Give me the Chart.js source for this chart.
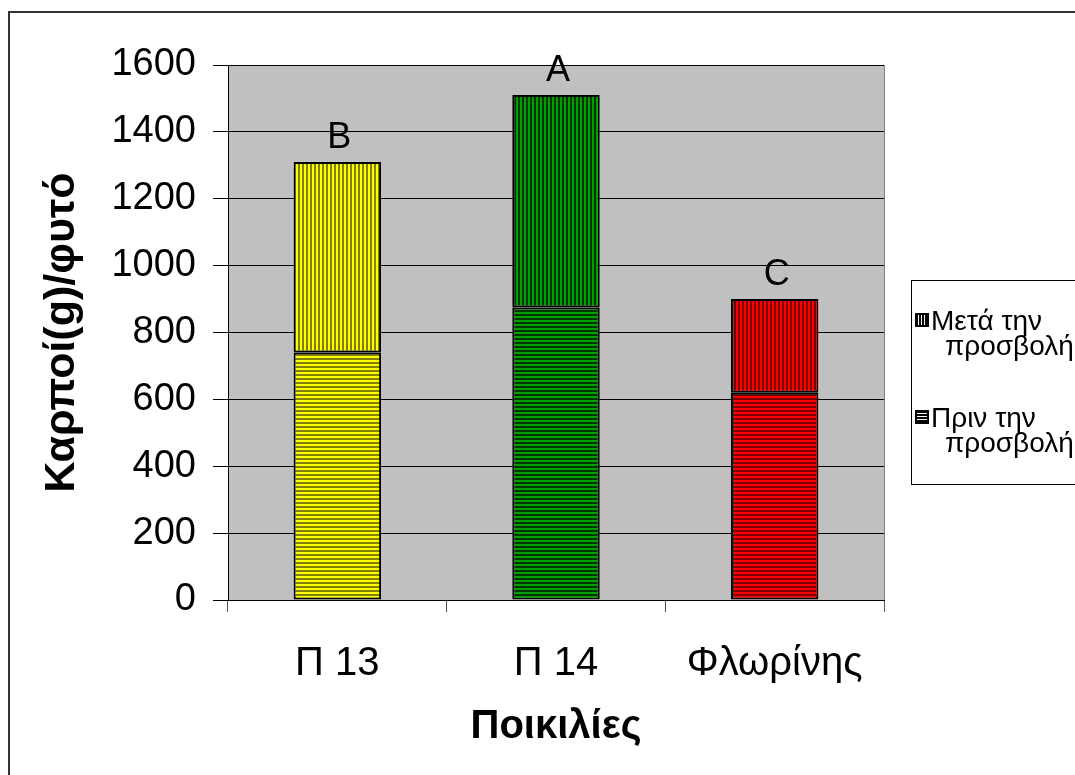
<!DOCTYPE html>
<html lang="el">
<head>
    <meta charset="UTF-8">
    <title>Καρποί ανά φυτό</title>
    <style>
        body { margin: 0; background: #fff; }
        canvas { display: block; }
    </style>
</head>
<body>
    <canvas id="chart" width="1075" height="775"></canvas>

    <script src="https://cdn.jsdelivr.net/npm/chart.js"></script>
    <script>
        // data
        const varieties = ['Π 13', 'Π 14', 'Φλωρίνης'];
        const beforeValues = [740, 875, 620];   // Πριν την προσβολή
        const afterValues = [570, 635, 280];    // Μετά την προσβολή
        const letters = ['B', 'A', 'C'];
        const legendLines = [['Μετά την', 'προσβολή'], ['Πριν την', 'προσβολή']];

        const barColors = [
            { light: '#ffff00', dark: '#808000' },
            { light: '#00a000', dark: '#003300' },
            { light: '#ff0000', dark: '#7a0000' }
        ];

        const FONT = 'Arial, "Liberation Sans", sans-serif';

        // striped fill, vertical or horizontal
        function stripes(c, vertical) {
            const p = document.createElement('canvas');
            p.width = 4; p.height = 4;
            const g = p.getContext('2d');
            g.fillStyle = c.dark;
            g.fillRect(0, 0, 4, 4);
            g.fillStyle = c.light;
            if (vertical) g.fillRect(0, 0, 2, 4);
            else g.fillRect(0, 0, 4, 2);
            return g.createPattern(p, 'repeat');
        }

        const ctx = document.getElementById('chart').getContext('2d');

        const plotBg = {
            id: 'plotBg',
            beforeDraw(chart) {
                const c = chart.ctx, a = chart.chartArea;
                c.save();
                // outer frame (left and top edges visible)
                c.strokeStyle = '#333';
                c.lineWidth = 2;
                c.beginPath();
                c.moveTo(9, 775); c.lineTo(9, 12); c.lineTo(1075, 12);
                c.stroke();
                c.fillStyle = '#c0c0c0';
                c.fillRect(a.left, a.top, a.right - a.left, a.bottom - a.top);
                c.strokeStyle = '#808080';
                c.lineWidth = 1;
                c.strokeRect(a.left + 0.5, a.top + 0.5, a.right - a.left, a.bottom - a.top);
                c.restore();
            }
        };

        const topLetters = {
            id: 'topLetters',
            afterDatasetsDraw(chart) {
                const c = chart.ctx;
                const meta = chart.getDatasetMeta(1);
                c.save();
                c.font = '36px ' + FONT;
                c.fillStyle = '#000';
                c.textAlign = 'center';
                c.textBaseline = 'alphabetic';
                meta.data.forEach((bar, i) => {
                    c.fillText(letters[i], bar.x + 2, bar.y - 14);
                });
                c.restore();
            }
        };

        const sideLegend = {
            id: 'sideLegend',
            afterDraw(chart) {
                const c = chart.ctx;
                c.save();
                c.strokeStyle = '#000';
                c.lineWidth = 1;
                c.strokeRect(911.5, 280.5, 200, 204);
                c.font = '28px ' + FONT;
                c.textBaseline = 'alphabetic';
                const ys = [330, 427];
                legendLines.forEach((lines, i) => {
                    const y = ys[i];
                    const x0 = 915, y0 = y - 17;
                    // black swatch with thin white stripes
                    c.fillStyle = '#000';
                    c.fillRect(x0, y0, 14, 14);
                    c.fillStyle = '#fff';
                    for (let k = 3; k <= 10; k += 3) {
                        if (i === 0) c.fillRect(x0 + k, y0 + 2, 1, 10);
                        else c.fillRect(x0 + 2, y0 + k, 10, 1);
                    }
                    c.fillStyle = '#000';
                    c.fillText(lines[0], 931, y);
                    c.fillText(lines[1], 945, y + 25);
                });
                c.restore();
            }
        };

        new Chart(ctx, {
            type: 'bar',
            data: {
                labels: varieties,
                datasets: [
                    {
                        label: 'Πριν την προσβολή',
                        data: beforeValues,
                        backgroundColor: barColors.map(c => stripes(c, false)),
                        borderColor: '#000',
                        borderWidth: 2,
                        borderSkipped: false,
                        barPercentage: 0.4,
                        categoryPercentage: 1
                    },
                    {
                        label: 'Μετά την προσβολή',
                        data: afterValues,
                        backgroundColor: barColors.map(c => stripes(c, true)),
                        borderColor: '#000',
                        borderWidth: 2,
                        borderSkipped: false,
                        barPercentage: 0.4,
                        categoryPercentage: 1
                    }
                ]
            },
            options: {
                responsive: false,
                animation: false,
                layout: { padding: { top: 65, right: 191, left: 0, bottom: 0 } },
                plugins: {
                    legend: { display: false },
                    tooltip: { enabled: false }
                },
                scales: {
                    x: {
                        stacked: true,
                        afterFit(scale) { scale.height = 175; },
                        grid: {
                            offset: true,
                            drawOnChartArea: false,
                            tickLength: 12,
                            color: '#555'
                        },
                        border: { color: '#000', width: 1 },
                        ticks: {
                            color: '#000',
                            padding: 28,
                            font: { family: FONT, size: 40 }
                        },
                        title: {
                            display: true,
                            text: 'Ποικιλίες',
                            color: '#000',
                            padding: { top: 0, bottom: 24 },
                            font: { family: FONT, size: 40, weight: 'bold' }
                        }
                    },
                    y: {
                        stacked: true,
                        min: 0,
                        max: 1600,
                        afterFit(scale) { scale.width = 228; },
                        grid: {
                            color: '#000',
                            tickLength: 15
                        },
                        border: { color: '#000', width: 1 },
                        ticks: {
                            stepSize: 200,
                            color: '#000',
                            padding: 17,
                            callback: v => String(v),
                            font: { family: FONT, size: 38 }
                        },
                        title: {
                            display: true,
                            text: 'Καρποί(g)/φυτό',
                            color: '#000',
                            padding: { top: 36, bottom: 0 },
                            font: { family: FONT, size: 43, weight: 'bold' }
                        }
                    }
                }
            },
            plugins: [plotBg, topLetters, sideLegend]
        });
    </script>
</body>
</html>
